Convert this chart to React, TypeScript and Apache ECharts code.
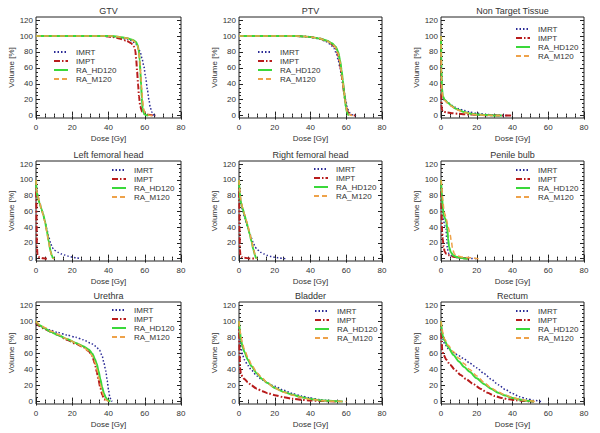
import React, { useEffect, useRef } from "react";
import * as echarts from "echarts";

type P = [number, number][];

const panelTitles = ["GTV", "PTV", "Non Target Tissue", "Left femoral head", "Right femoral head", "Penile bulb", "Urethra", "Bladder", "Rectum"];
const seriesNames = ["IMRT", "IMPT", "RA_HD120", "RA_M120"];
const xTickLabels = [0, 20, 40, 60, 80];
const yTickLabels = [0, 20, 40, 60, 80, 100, 120];
const yMinorTicks = [5, 10, 15, 25, 30, 35, 45, 50, 55, 65, 70, 75, 85, 90, 95, 105, 110, 115];

// GTV
const gtvImrt: P = [[0,100],[35,100],[40,99.5],[45,98.5],[50,96.5],[53,94],[55,90],[56.5,85],[57.5,80],[58.5,72],[59.5,62],[60.5,48],[61.5,32],[62.3,20],[63,11],[63.8,5],[64.5,1.5],[65.5,0]];
const gtvImpt: P = [[0,100],[38,100],[42,99],[46,97],[50,94],[52.5,91],[54,87],[54.8,82],[55.3,70],[55.8,55],[56.3,40],[56.8,25],[57.5,12],[58.5,5],[60,2],[62,1],[64,0.5],[66,0]];
const gtvHd: P = [[0,100],[42,100],[46,99],[50,97.5],[53,95.5],[55,93],[56,89],[56.7,82],[57.2,70],[57.6,55],[58,38],[58.4,22],[58.8,10],[59.3,4],[60,1.5],[61,0.5],[62,0]];
const gtvM: P = [[0,100],[42,100],[46,99],[50,97.5],[53,95],[55,92],[56,88],[56.8,80],[57.3,68],[57.8,52],[58.3,35],[58.8,20],[59.3,10],[60,4],[61,1.5],[62.5,0.5],[64,0]];
// PTV
const ptvImrt: P = [[0,100],[30,100],[36,99.5],[40,98.5],[44,97],[48,94],[51,90],[53,85],[54.5,78],[55.5,70],[56.5,60],[57.3,50],[58.2,38],[59,27],[59.8,18],[60.5,11],[61.3,6],[62.2,3],[63.5,1],[65.5,0]];
const ptvImpt: P = [[0,100],[32,100],[37,99.5],[41,98.5],[45,97],[49,94],[52,90],[54,85],[55.3,78],[56.3,68],[57.2,55],[58,42],[58.7,30],[59.4,19],[60,11],[60.8,5],[61.8,2],[63,0.7],[65,0]];
const ptvHd: P = [[0,100],[32,100],[37,99.5],[41,98.5],[45,97],[49,94.5],[52,91],[54,87],[55.5,80],[56.5,70],[57.4,57],[58.1,44],[58.7,32],[59.3,20],[59.8,11],[60.3,5],[60.8,2],[61.5,0]];
const ptvM: P = [[0,100],[32,100],[37,99.5],[41,98.5],[45,97],[49,94],[52,90.5],[54,86],[55.5,78],[56.5,68],[57.3,56],[58,43],[58.7,31],[59.3,20],[59.9,11],[60.5,5],[61.3,2],[62.5,0.5],[63.5,0]];
// Non Target Tissue
const nttImrt: P = [[0,100],[0.2,45],[0.5,25],[1,21],[2,19],[4,16],[6,13],[8,10.5],[10,8.5],[13,6.5],[16,4.5],[20,3],[25,1.5],[30,0.7],[35,0.2],[38,0]];
const nttImpt: P = [[0,100],[0.1,40],[0.3,12],[0.6,7],[1,5.5],[3,4],[6,3],[10,2.2],[15,1.5],[20,1],[25,0.6],[30,0.4],[35,0.2],[40,0]];
const nttHd: P = [[0,100],[0.2,60],[0.5,35],[1,25],[2,20],[4,16],[6,12],[8,9],[10,7],[13,4.5],[16,2.8],[20,1.5],[25,0.7],[30,0.2],[34,0]];
const nttM: P = [[0,100],[0.2,55],[0.5,32],[1,24],[2,19],[4,15],[6,11.5],[8,8.5],[10,6.5],[13,4],[16,2.5],[20,1.2],[25,0.5],[30,0.1],[33,0]];
// Left femoral head
const lfhImrt: P = [[0,100],[0.5,88],[1,80],[2,72],[3,64],[4,56],[5,47],[6,37],[7,28],[8,20],[9,14],[10,11],[12,8],[14,6],[16,4.5],[18,3],[20,2],[22,1],[25,0]];
const lfhImpt: P = [[0,100],[0.15,75],[0.3,45],[0.5,15],[0.8,6],[1.2,3],[2,1.5],[4,0.5],[6,0]];
const lfhHd: P = [[0,100],[0.3,85],[1,78],[2,70],[3,63],[4,56],[5,47],[6,35],[7,22],[8,10],[8.7,4],[9.3,1],[10,0]];
const lfhM: P = [[0,100],[0.3,88],[1,80],[2,71],[3,63],[4,55],[5,46],[6,34],[7,21],[8,9],[8.8,3],[9.5,0.5],[10,0]];
// Right femoral head
const rfhImrt: P = [[0,100],[0.5,82],[1,72],[2,62],[3,54],[4,46],[5,39],[6,32],[7,26],[8,20],[9,15],[10,12],[12,8],[14,6],[16,4],[18,2.8],[20,1.8],[22,1],[25,0.2],[26,0]];
const rfhImpt: P = [[0,100],[0.15,70],[0.3,40],[0.5,12],[0.8,4],[1.5,2],[3,1],[6,0.3],[9,0]];
const rfhHd: P = [[0,100],[0.3,85],[1,72],[2,64],[3,56],[4,48],[5,40],[6,31],[7,22],[8,12],[9,4],[9.5,1],[10,0]];
const rfhM: P = [[0,100],[0.3,90],[1,75],[2,65],[3,57],[4,49],[5,41],[6,32],[7,23],[8,13],[9,5],[9.6,1],[10,0]];
// Penile bulb
const pbImrt: P = [[0,100],[0.5,75],[1,58],[1.5,48],[2,42],[2.8,38],[3.2,25],[3.6,12],[4.5,6],[6,3.5],[8,2],[10,1.2],[13,0.6],[16,0.2],[20,0]];
const pbImpt: P = [[0,100],[0.3,60],[0.6,35],[1,25],[1.5,15],[2,9],[3,6],[4,4.5],[6,3],[8,2],[10,1],[13,0.5],[16,0]];
const pbHd: P = [[0,100],[0.5,80],[1,65],[1.5,55],[2,52],[2.5,50],[3,46],[3.5,38],[4,25],[4.5,15],[5.5,8],[7,4],[9,2],[11,1],[13,0.3],[15,0]];
const pbM: P = [[0,100],[0.5,90],[1,75],[1.5,65],[2,58],[3,50],[4,40],[5,32],[5.8,22],[6.5,12],[7.5,6],[9,3.5],[12,2],[15,1.3],[18,0.8],[20,0.3],[21,0]];
// Urethra
const urImrt: P = [[0,97],[2,94],[5,91],[8,89],[12,86],[17,83],[22,80],[26,77],[30,73],[33,69],[35,64],[36.5,57],[37.5,48],[38.5,38],[39.3,26],[40,15],[40.7,6],[41.5,1],[42,0]];
const urImpt: P = [[0,98],[2,94],[5,90],[8,87],[12,83],[17,77],[22,72],[26,68],[29,63],[31,57],[32.5,47],[33.5,37],[34.5,27],[35.5,17],[36.5,9],[37.5,3],[38.5,0]];
const urHd: P = [[0,100],[2,95],[5,91],[8,87],[12,83],[17,78],[22,73],[26,69],[29,65],[31,60],[32.5,53],[33.5,47],[34.5,38],[35.5,28],[36.5,18],[37.5,10],[38.5,5],[39.5,2],[41,0]];
const urM: P = [[0,100],[2,96],[5,92],[8,88],[12,84],[17,78],[22,73],[26,68],[29,63],[31,57],[32.5,49],[33.5,41],[34.5,31],[35.5,21],[36.5,12],[37.5,6],[38.5,2],[40,0]];
// Bladder
const blImrt: P = [[0,100],[0.5,80],[1,68],[2,58],[3,52],[5,45],[7,39],[10,32],[13,27],[16,23],[20,19],[25,14],[30,10],[35,7],[40,4.5],[45,2.5],[50,1.3],[55,0.4],[58,0]];
const blImpt: P = [[0,100],[0.3,60],[0.6,42],[1,35],[2,31],[3,28],[5,24],[7,20],[10,16],[13,13],[16,10.5],[20,8],[25,5.5],[30,3.5],[35,2.2],[40,1.3],[45,0.8],[50,0.4],[55,0]];
const blHd: P = [[0,100],[0.5,88],[1,78],[2,68],[3,62],[5,52],[7,44],[10,35],[13,28],[16,23],[20,17],[25,12],[30,8.5],[35,5.5],[40,3.2],[45,1.8],[50,0.9],[55,0.3],[58,0]];
const blM: P = [[0,100],[0.5,90],[1,82],[2,72],[3,65],[5,55],[7,46],[10,36],[13,29],[16,23],[20,17],[25,11.5],[30,8],[35,5],[40,2.8],[45,1.5],[50,0.8],[55,0.3],[60,0]];
// Rectum
const reImrt: P = [[0,100],[0.5,85],[1,78],[2,72],[4,66],[7,61],[10,57],[13,53],[16,48],[20,42],[24,35],[28,28],[32,21],[36,15],[40,10],[44,6],[48,3.5],[52,1.5],[56,0]];
const reImpt: P = [[0,100],[0.3,75],[0.7,64],[1.5,58],[3,52],[5,46],[8,39],[11,33],[14,28],[18,22],[22,16],[26,11],[30,7],[34,4.5],[38,2.8],[42,1.6],[46,0.8],[50,0.2],[52,0]];
const reHd: P = [[0,100],[0.5,88],[1,82],[2,76],[4,68],[7,58],[10,50],[13,43],[16,37],[20,29],[24,22],[28,16],[32,11],[36,7.5],[40,4.5],[44,2.5],[48,1],[52,0]];
const reM: P = [[0,100],[0.5,92],[1,86],[2,78],[4,70],[7,62],[10,54],[13,47],[16,40],[20,32],[24,24],[28,17],[32,12],[36,8],[40,5],[44,2.8],[48,1.2],[53,0]];

const panelData: P[][] = [
  [gtvImrt, gtvImpt, gtvHd, gtvM],
  [ptvImrt, ptvImpt, ptvHd, ptvM],
  [nttImrt, nttImpt, nttHd, nttM],
  [lfhImrt, lfhImpt, lfhHd, lfhM],
  [rfhImrt, rfhImpt, rfhHd, rfhM],
  [pbImrt, pbImpt, pbHd, pbM],
  [urImrt, urImpt, urHd, urM],
  [blImrt, blImpt, blHd, blM],
  [reImrt, reImpt, reHd, reM],
];

const FONT = "Liberation Sans";
const TXT = "#333";
const colGeom = [{ left: 36, width: 145 }, { left: 239, width: 143 }, { left: 441, width: 143 }];
const rowGeom = [{ top: 17, height: 101 }, { top: 161, height: 100 }, { top: 302, height: 102 }];
const legendPos = [
  [53, 48], [257, 48], [515, 25],
  [111, 166], [313, 165], [515, 166],
  [111, 306], [314, 307], [515, 307],
];
const styles = [
  { color: "#2a2a96", width: 1.5, type: [1.5, 2] as any },
  { color: "#b81c1c", width: 2, type: [6, 2, 1.5, 2] as any },
  { color: "#3ad83a", width: 2, type: "solid" as any },
  { color: "#eea24a", width: 1.5, type: [5, 3] as any },
];

export default function App() {
  const ref = useRef<HTMLDivElement>(null);
  useEffect(() => {
    if (!ref.current) return;
    const chart = echarts.init(ref.current, null, { renderer: "svg" });
    const grid: any[] = [];
    const xAxis: any[] = [];
    const yAxis: any[] = [];
    const series: any[] = [];
    const legend: any[] = [];
    const graphic: any[] = [];
    const yMin = -3, yMax = 124;
    panelTitles.forEach((title, i) => {
      const c = colGeom[i % 3];
      const r = rowGeom[Math.floor(i / 3)];
      grid.push({ left: c.left, top: r.top, width: c.width, height: r.height, show: true, borderColor: "#222", borderWidth: 1, backgroundColor: "transparent" });
      const xBase = {
        gridIndex: i, type: "value", min: 0, max: 80, interval: 20,
        axisLine: { show: false }, splitLine: { show: false },
        axisTick: { show: true, inside: true, length: 4, lineStyle: { color: "#222" } },
        minorTick: { show: true, splitNumber: 4, length: 2, lineStyle: { color: "#222" } },
      };
      xAxis.push({
        ...xBase, position: "bottom",
        axisLabel: { show: true, customValues: xTickLabels, fontSize: 8, color: TXT, fontFamily: FONT, margin: 5 },
        name: "Dose [Gy]", nameLocation: "middle", nameGap: 16,
        nameTextStyle: { fontSize: 8, color: TXT, fontFamily: FONT },
      });
      xAxis.push({ ...xBase, position: "top", axisLabel: { show: false } });
      const yBase = {
        gridIndex: i, type: "value", min: yMin, max: yMax,
        axisLine: { show: false }, splitLine: { show: false },
      };
      yAxis.push({
        ...yBase, position: "left",
        axisTick: { show: true, inside: true, length: 4, customValues: yTickLabels, lineStyle: { color: "#222" } },
        axisLabel: { show: true, customValues: yTickLabels, fontSize: 8, color: TXT, fontFamily: FONT, margin: 3 },
        name: "Volume [%]", nameLocation: "middle", nameGap: 20,
        nameTextStyle: { fontSize: 8, color: TXT, fontFamily: FONT },
      });
      yAxis.push({
        ...yBase, position: "left",
        axisTick: { show: true, inside: true, length: 2, customValues: yMinorTicks, lineStyle: { color: "#222" } },
        axisLabel: { show: false },
      });
      yAxis.push({
        ...yBase, position: "right",
        axisTick: { show: true, inside: true, length: 4, customValues: yTickLabels, lineStyle: { color: "#222" } },
        axisLabel: { show: false },
      });
      yAxis.push({
        ...yBase, position: "right",
        axisTick: { show: true, inside: true, length: 2, customValues: yMinorTicks, lineStyle: { color: "#222" } },
        axisLabel: { show: false },
      });
      panelData[i].forEach((d, k) => {
        series.push({
          type: "line", name: seriesNames[k], data: d,
          xAxisIndex: 2 * i, yAxisIndex: 4 * i,
          showSymbol: false, symbol: "none", smooth: 0.25, smoothMonotone: "x",
          lineStyle: { color: styles[k].color, width: styles[k].width, type: styles[k].type },
          itemStyle: { color: styles[k].color },
          clip: true, z: 2 + k,
        });
      });
      legend.push({
        left: legendPos[i][0], top: legendPos[i][1], orient: "vertical",
        padding: 0, itemGap: 1, itemWidth: 14, itemHeight: 7,
        selectedMode: false,
        itemStyle: { opacity: 0 },
        data: seriesNames,
        textStyle: { fontSize: 8, color: TXT, fontFamily: FONT, padding: [0, 0, 0, 3], lineHeight: 7 },
      });
      graphic.push({
        type: "text", x: c.left + c.width / 2, y: r.top - 6,
        style: { text: title, align: "center", verticalAlign: "middle", fontSize: 9, fill: TXT, fontFamily: FONT },
      });
    });
    chart.setOption({
      animation: false,
      backgroundColor: "#fff",
      grid, xAxis, yAxis, series, legend, graphic,
    });
    return () => chart.dispose();
  }, []);
  return <div ref={ref} style={{ width: 600, height: 433, position: "absolute", left: 0, top: 0 }} />;
}
